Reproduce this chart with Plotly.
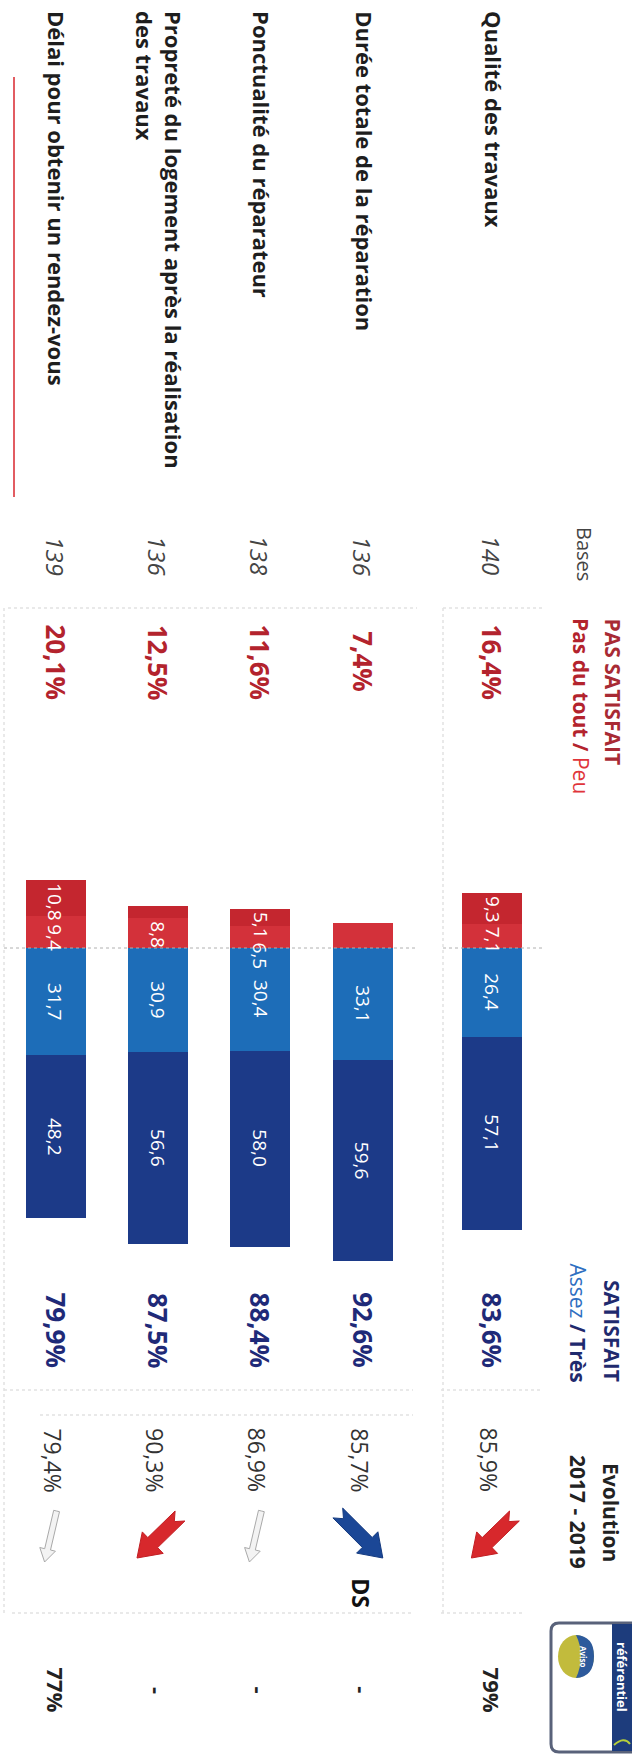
import plotly.graph_objects as go

# ---- données -------------------------------------------------------------
criteres = [
    "Qualité des travaux",
    "Durée totale de la réparation",
    "Ponctualité du réparateur",
    "Propreté du logement après la réalisation<br>des travaux",
    "Délai pour obtenir un rendez-vous",
]
bases = [140, 136, 138, 136, 139]
pas_du_tout = [9.3, 0.0, 5.1, 3.7, 10.8]
peu = [7.1, 7.4, 6.5, 8.8, 9.4]
assez = [26.4, 33.1, 30.4, 30.9, 31.7]
tres = [57.1, 59.6, 58.0, 56.6, 48.2]
pas_satisfait = [16.4, 7.4, 11.6, 12.5, 20.1]
satisfait = [83.6, 92.6, 88.4, 87.5, 79.9]
satisfait_2017 = [85.9, 85.7, 86.9, 90.3, 79.4]
diff_significative = [False, True, False, False, False]
referentiel = [79, None, None, None, 77]
afficher_pas_du_tout = [True, False, True, False, True]
afficher_peu = [True, False, True, True, True]

# ---- mise en page (tableau pivoté d'un quart de tour) --------------------
W, H = 632, 1754
FONT = "Open Sans"
ZERO_PX = 948.0          # position de l'axe zéro des barres
PX_PER_PCT = 3.38        # échelle des barres
PITCH = 102.4
FIRST = 55.6
GAP_FIRST_ROW = 27.2
n = len(criteres)
row_x = []
for i in range(n):
    k = n - 1 - i
    row_x.append(FIRST + k * PITCH + (GAP_FIRST_ROW if i == 0 else 0))

C_PDT = "#c4262f"
C_PEU = "#d3313a"
C_ASSEZ = "#1d6db8"
C_TRES = "#1c3a88"
C_RED_TXT = "#b3232d"
C_NAVY = "#1f2a78"

fig = go.Figure()

def neg(v):
    return [-x for x in v]

for vals, col in [(neg(peu), C_PEU), (neg(pas_du_tout), C_PDT),
                  (assez, C_ASSEZ), (tres, C_TRES)]:
    fig.add_trace(go.Bar(x=row_x, y=vals, width=60, marker=dict(color=col, line=dict(width=0)),
                         xaxis="x", yaxis="y2", hoverinfo="skip"))

def vtext(x, y, text, size, color, weight=400, xanchor="center", yanchor="middle",
          italic=False, align="left", yref="y"):
    fig.add_annotation(x=x, y=y, xref="x", yref=yref, text=text, showarrow=False,
                       textangle=90, xanchor=xanchor, yanchor=yanchor, align=align,
                       borderpad=0,
                       font=dict(family=FONT, size=size, color=color, weight=weight,
                                 style="italic" if italic else "normal"))

def fmt(v):
    return f"{v:.1f}".replace(".", ",")

CHAR_W = {",": 0.26, "%": 0.84}
def text_len_pct(s, size):
    px = sum(CHAR_W.get(c, 0.572) for c in s) * size
    return px / PX_PER_PCT

SEG_SIZE = 19
SEG_W = 500
for i in range(n):
    x = row_x[i]
    # étiquettes rouges, empilées depuis l'extrémité de la barre
    outer = -(pas_du_tout[i] + peu[i])
    edge = outer + 2 / PX_PER_PCT
    end_prev = None
    if afficher_pas_du_tout[i]:
        t = fmt(pas_du_tout[i])
        L = text_len_pct(t, SEG_SIZE)
        s = -(peu[i] + pas_du_tout[i] / 2) - L / 2
        s = max(s, edge)
        vtext(x, s, t, SEG_SIZE, "white", weight=SEG_W, yanchor="top", yref="y2")
        end_prev = s + L
    if afficher_peu[i]:
        t = fmt(peu[i])
        L = text_len_pct(t, SEG_SIZE)
        s = -peu[i] / 2 - L / 2
        s = max(s, edge)
        if end_prev is not None:
            s = max(s, end_prev + 4 / PX_PER_PCT)
        vtext(x, s, t, SEG_SIZE, "white", weight=SEG_W, yanchor="top", yref="y2")
    # étiquettes bleues, centrées
    vtext(x, assez[i] / 2, fmt(assez[i]), SEG_SIZE, "white", weight=SEG_W, yref="y2")
    vtext(x, assez[i] + tres[i] / 2, fmt(tres[i]), SEG_SIZE, "white", weight=SEG_W, yref="y2")

# libellés des critères
for i in range(n):
    vtext(row_x[i] + 2, 10, criteres[i], 22, "#1e1e1e", weight=700, yanchor="top")

# bases
vtext(585, 554, "Bases", 20, "#444444")
for i in range(n):
    vtext(row_x[i], 556, str(bases[i]), 24, "#444444", italic=True)

# PAS SATISFAIT
vtext(613, 617, "PAS SATISFAIT", 21, "#a82a34", weight=700, yanchor="top")
vtext(581, 617, "<b>Pas du tout /</b> <span style='color:#e0343a'>Peu</span>", 21, C_RED_TXT,
      yanchor="top")
for i in range(n):
    vtext(row_x[i], 662, fmt(pas_satisfait[i]) + "%", 26, C_RED_TXT, weight=700)

# SATISFAIT
vtext(612, 1383, "SATISFAIT", 21, "#1f2a6e", weight=700, yanchor="bottom")
vtext(578, 1383, "<span style='color:#2f6fc1'>Assez</span> <b>/ Très</b>", 21, "#1f2a6e",
      yanchor="bottom")
for i in range(n):
    vtext(row_x[i], 1330, fmt(satisfait[i]) + "%", 26, C_NAVY, weight=700)

# Evolution
vtext(611, 1512, "Evolution", 21, "#222222", weight=700)
vtext(578, 1512, "2017 - 2019", 21, "#222222", weight=700)

def fleche(tx, ty, hx, hy, shaft, head_w, head_l, notch):
    dx, dy = hx - tx, hy - ty
    L = (dx * dx + dy * dy) ** 0.5
    ux, uy = dx / L, dy / L
    nx, ny = -uy, ux
    bx, by = hx - ux * head_l, hy - uy * head_l
    pts = [
        (tx + nx * shaft, ty + ny * shaft),
        (bx + nx * shaft, by + ny * shaft),
        (bx + nx * head_w, by + ny * head_w),
        (hx, hy),
        (bx - nx * head_w, by - ny * head_w),
        (bx - nx * shaft, by - ny * shaft),
        (tx - nx * shaft, ty - ny * shaft),
        (tx + ux * notch, ty + uy * notch),
    ]
    return "M " + " L ".join(f"{a:.1f},{b:.1f}" for a, b in pts) + " Z"

ARROW_Y = 1537
for i in range(n):
    x = row_x[i]
    vtext(x - 3, 1460, fmt(satisfait_2017[i]) + "%", 23, "#333333")
    delta = satisfait[i] - satisfait_2017[i]
    if abs(delta) < 2:
        path = fleche(x + 1, ARROW_Y - 26, x - 11, ARROW_Y + 25, 3, 8, 13, 0)
        fig.add_shape(type="path", path=path, xref="x", yref="y",
                      fillcolor="#f3f3f3", line=dict(color="#a9a9a9", width=1))
    elif delta < 0:
        path = fleche(x + 22, ARROW_Y - 21, x - 21, ARROW_Y + 21, 7, 15, 22, 8)
        fig.add_shape(type="path", path=path, xref="x", yref="y",
                      fillcolor="#d7282c", line=dict(color="#c21f24", width=1))
    else:
        path = fleche(x - 25, ARROW_Y - 24, x + 20, ARROW_Y + 21, 7, 15, 22, 8)
        fig.add_shape(type="path", path=path, xref="x", yref="y",
                      fillcolor="#1b4796", line=dict(color="#143a80", width=1))
    if diff_significative[i]:
        vtext(x - 2, 1593, "DS", 23, "#111111", weight=700)

# référentiel
for i in range(n):
    t = f"{referentiel[i]}%" if referentiel[i] is not None else "-"
    vtext(row_x[i], 1690, t, 22, "#222222", weight=700)

# logo « référentiel »
fig.add_shape(type="path", xref="x", yref="y",
              path="M 559,1623 L 640,1623 L 640,1752 L 559,1752 Q 551,1752 551,1744 L 551,1631 Q 551,1623 559,1623 Z",
              fillcolor="white", line=dict(color="#59627a", width=3))
fig.add_shape(type="rect", xref="x", yref="y", x0=612, x1=640, y0=1624, y1=1751,
              fillcolor="#1d3c7c", line=dict(width=0))
vtext(622, 1677, "référentiel", 13, "white", weight=700)
fig.add_shape(type="circle", xref="x", yref="y", x0=558, x1=594, y0=1635, y1=1678,
              fillcolor="#c2bb3c", line=dict(width=0))
fig.add_shape(type="path", xref="x", yref="y",
              path="M 576,1635 Q 594,1636 594,1656 Q 594,1677 576,1678 Q 586,1656 576,1635 Z",
              fillcolor="#2d5a9c", line=dict(width=0))
vtext(584, 1656, "Aviso", 8, "white", weight=700)
fig.add_shape(type="path", xref="x", yref="y",
              path="M 614,1745 Q 624,1736 630,1744", line=dict(color="#b6cf3a", width=2))

# filets du tableau
GRID = dict(color="#e2e2e2", width=1.5, dash="dot")
for (x0, x1, y) in [(8, 417, 608), (443, 542, 608), (4, 413, 1390), (441, 542, 1390),
                    (40, 413, 1415), (12, 411, 1613), (441, 524, 1613)]:
    fig.add_shape(type="line", xref="x", yref="y", x0=x0, x1=x1, y0=y, y1=y, line=GRID)
for (x, y0, y1) in [(443, 608, 1613), (4, 608, 1613)]:
    fig.add_shape(type="line", xref="x", yref="y", x0=x, x1=x, y0=y0, y1=y1, line=GRID)

# axe zéro des barres
for (x0, x1) in [(4, 415), (443, 542)]:
    fig.add_shape(type="line", xref="x", yref="y2", x0=x0, x1=x1, y0=0, y1=0,
                  line=dict(color="#b0b0b0", width=1, dash="dot"), layer="above")

# filet rouge
fig.add_shape(type="line", xref="x", yref="y", x0=14, x1=14, y0=77, y1=497,
              line=dict(color="#d9262e", width=1.5))

fig.update_layout(
    width=W, height=H, margin=dict(l=0, r=0, t=0, b=0),
    paper_bgcolor="white", plot_bgcolor="white", showlegend=False,
    barmode="relative", bargap=0,
    xaxis=dict(range=[0, W], visible=False, fixedrange=True),
    yaxis=dict(range=[H, 0], visible=False, fixedrange=True),
    yaxis2=dict(overlaying="y", range=[(H - ZERO_PX) / PX_PER_PCT, -ZERO_PX / PX_PER_PCT],
                visible=False, fixedrange=True),
)

fig.write_html("out.html")
